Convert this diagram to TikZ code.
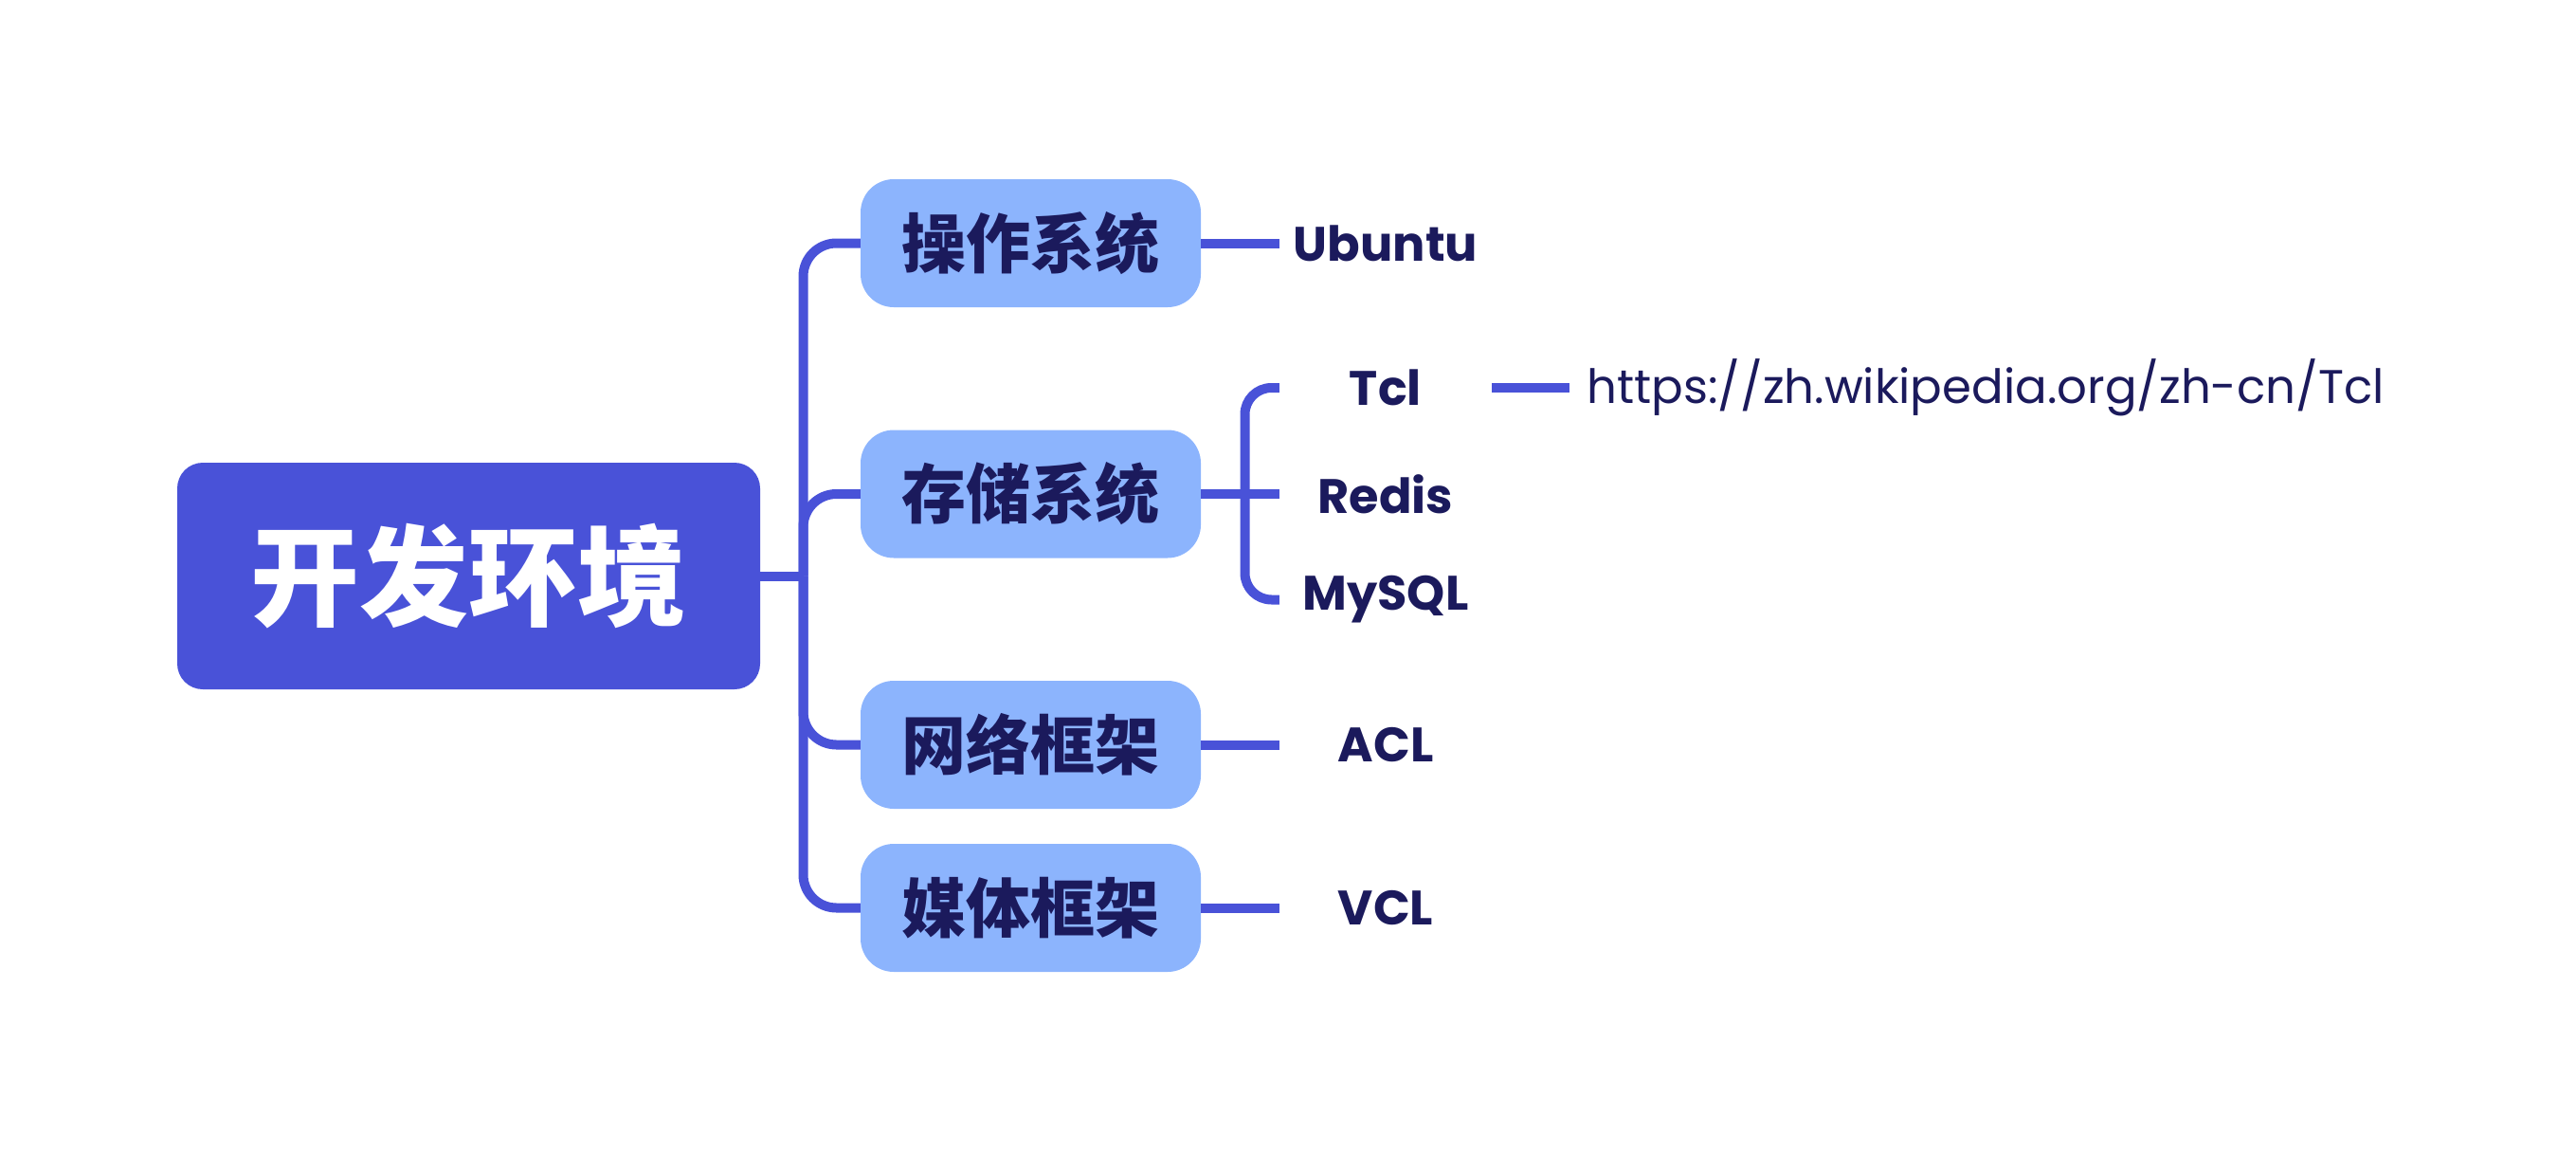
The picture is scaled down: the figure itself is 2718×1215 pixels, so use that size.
\documentclass[tikz,border=0pt]{standalone}
\usepackage{fontspec}
\setmainfont{Poppins}
\newfontfamily\cjk{Noto Sans CJK SC}
\definecolor{rootblue}{HTML}{4952D8}
\definecolor{childblue}{HTML}{8CB4FD}
\definecolor{navy}{HTML}{1B1A5C}
\tikzset{
  rootbox/.style={fill=rootblue, rounded corners=27pt, minimum width=615pt, minimum height=239pt, inner sep=0pt,
    text=white, font=\cjk\bfseries\fontsize{115}{115}\selectfont},
  childbox/.style={fill=childblue, rounded corners=35pt, minimum width=359pt, minimum height=135pt, inner sep=0pt,
    text=navy, font=\cjk\bfseries\fontsize{68}{68}\selectfont},
  leaf/.style={minimum width=224pt, inner sep=0pt, text=navy, font=\bfseries\fontsize{51}{51}\selectfont},
  urlnode/.style={inner xsep=18pt, inner ysep=0pt, text=navy, font=\fontsize{49.8}{50}\selectfont},
  link/.style={draw=rootblue, line width=10pt},
}
\begin{document}
\begin{tikzpicture}[x=1pt,y=-1pt]
\useasboundingbox (0,0) rectangle (2718,1215);
\node[rootbox] (root) at (494.5,607.5) {开发环境};
\node[childbox] (c1) at (1087.5,256.5) {操作系统};
\node[childbox] (c2) at (1087.5,521) {存储系统};
\node[childbox] (c3) at (1087.5,785.5) {网络框架};
\node[childbox] (c4) at (1087.5,957.5) {媒体框架};
\node[leaf] (ubuntu) at (1462,256.5) {Ubuntu};
\node[leaf] (tcl) at (1462,409) {Tcl};
\node[leaf] (redis) at (1462,521) {Redis};
\node[leaf] (mysql) at (1462,632.5) {MySQL};
\node[leaf] (acl) at (1462,785.5) {ACL};
\node[leaf] (vcl) at (1462,957.5) {VCL};
\node[urlnode, anchor=west] (url) at (1656,409) {https://zh.wikipedia.org/zh-cn/Tcl};
\coordinate (trunk) at (847.5,607.5);
\coordinate (bx) at (1313.5,521);
\draw[link] (root.east) -- (trunk);
\draw[link, rounded corners=35pt] (trunk) |- (c1.west);
\draw[link, rounded corners=35pt] (trunk) |- (c2.west);
\draw[link, rounded corners=35pt] (trunk) |- (c3.west);
\draw[link, rounded corners=35pt] (trunk) |- (c4.west);
\draw[link] (c1.east) -- (ubuntu.west);
\draw[link] (c2.east) -- (redis.west);
\draw[link, rounded corners=28pt] (tcl.west) -| (bx) |- (mysql.west);
\draw[link] (c3.east) -- (acl.west);
\draw[link] (c4.east) -- (vcl.west);
\draw[link] (tcl.east) -- (url.west);
\end{tikzpicture}
\end{document}
